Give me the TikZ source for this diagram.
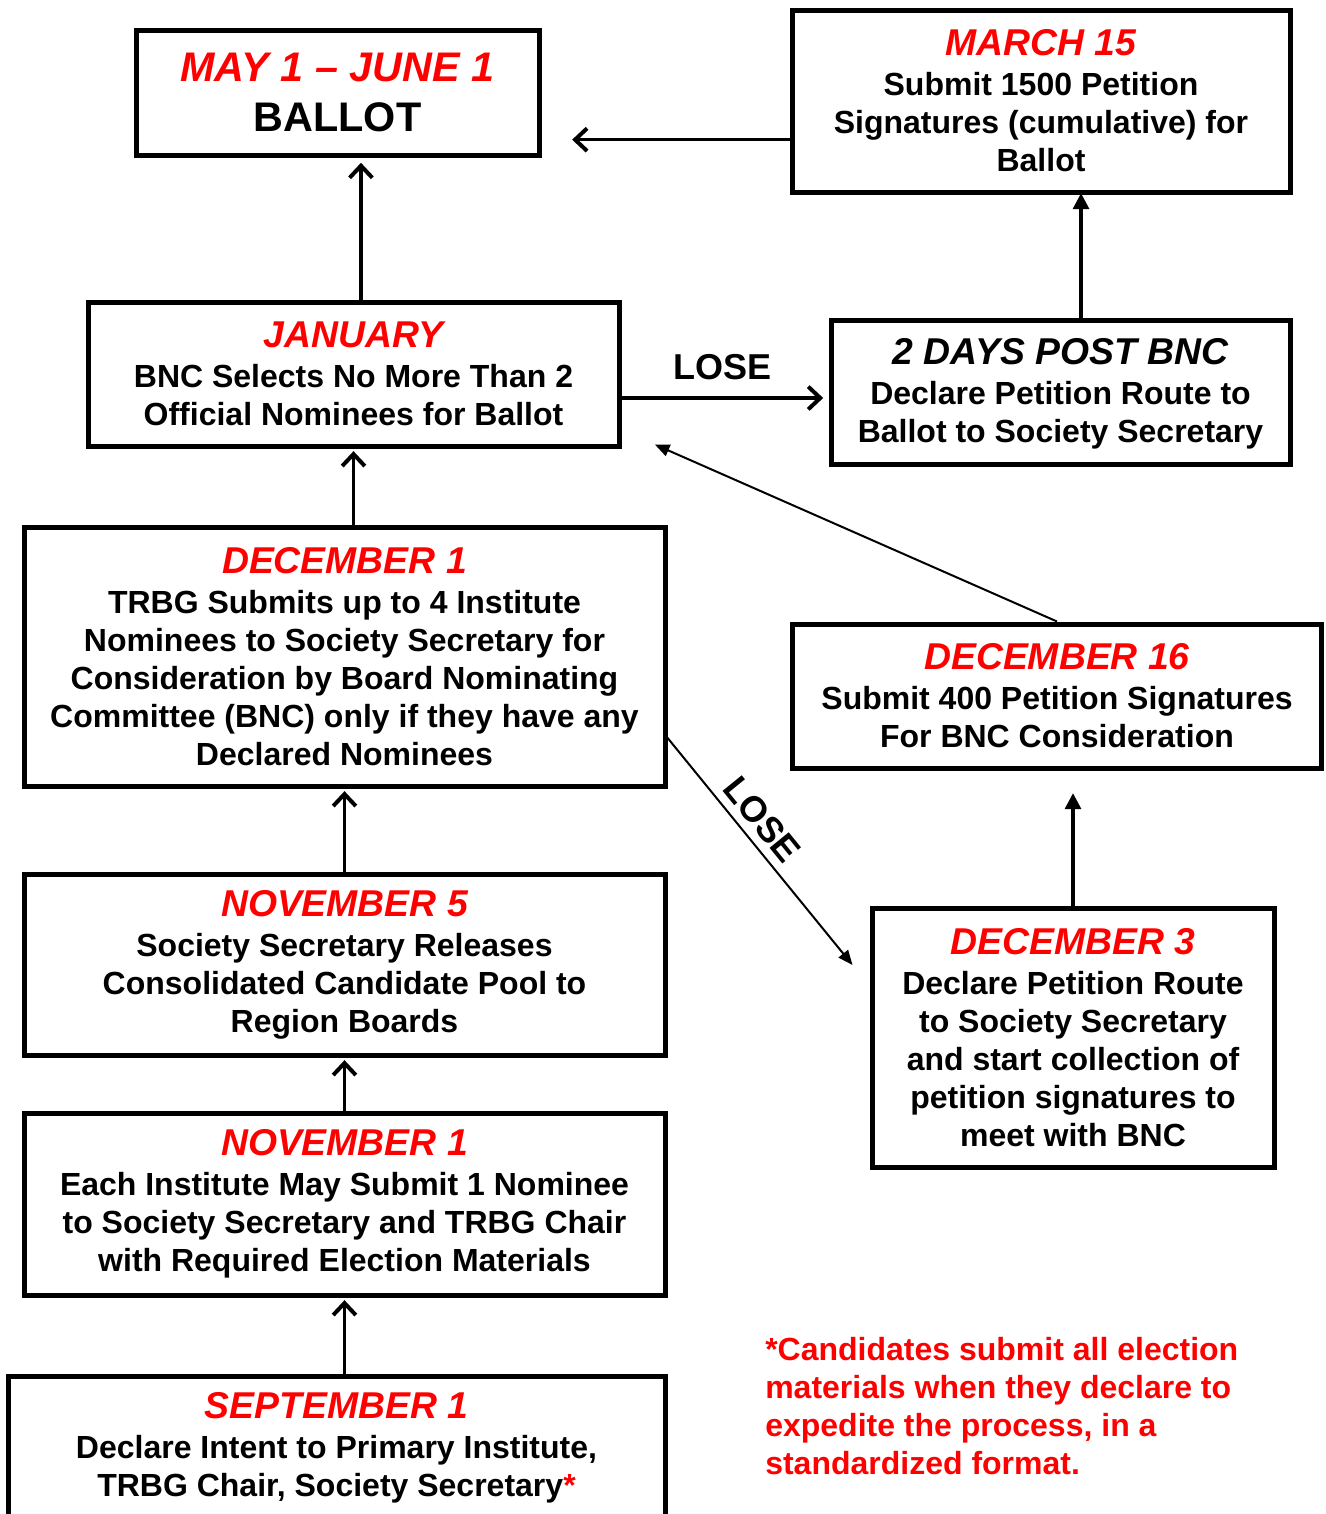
\documentclass[tikz,border=0pt]{standalone}
\usepackage{fontspec}
\setmainfont{Liberation Sans}
\usepackage{xcolor}
\usepackage{tikz}
\usetikzlibrary{arrows.meta}

\newcommand{\bodyfont}{\bfseries\fontsize{24}{28.5}\selectfont}
\newcommand{\datehead}[1]{{\fontsize{28}{30}\selectfont\itshape\color{red}#1}\\[1.5pt]}

\begin{document}
\begin{tikzpicture}[x=0.75pt, y=-0.75pt,
  datebox/.style 2 args={draw, line width=3.75pt, minimum width=0.75*#1pt,
    minimum height=0.75*#2pt, align=center, inner sep=0pt, font=\bodyfont},
  openarrow/.style={line width=2.4pt, -{Straight Barb[length=9pt,width=17pt,line width=3pt]}},
  solidarrow/.style={line width=2.4pt, -{Triangle[length=12pt,width=12pt]}},
  thinarrow/.style={line width=1.5pt, -{Triangle[length=11pt,width=9pt]}},
  losetext/.style={font=\bfseries\fontsize{27}{30}\selectfont, inner sep=2pt}]

% Page frame
\useasboundingbox (0,0) rectangle (1325,1514);
\clip (0,0) rectangle (1325,1514);

% Top row
\node[datebox={403}{125}, font=\bfseries\fontsize{31}{38}\selectfont] (ballot) at (337.5,92.5)
  {{\color{red}\itshape MAY 1 -- JUNE 1}\\ BALLOT};
\node[datebox={498}{182}] (march) at (1041,101)
  {\datehead{MARCH 15}Submit 1500 Petition\\ Signatures (cumulative) for\\ Ballot};

% BNC row
\node[datebox={531}{144}] (jan) at (353.5,374)
  {\datehead{JANUARY}BNC Selects No More Than 2\\ Official Nominees for Ballot};
\node[datebox={459}{144}] (days) at (1060.5,392)
  {\\[-6pt]{\fontsize{28}{30}\selectfont\itshape 2 DAYS POST BNC}\\[1.5pt]
   Declare Petition Route to\\ Ballot to Society Secretary};

% December boxes
\node[datebox={641}{259}] (dec1) at (344.5,656.5)
  {\datehead{DECEMBER 1}TRBG Submits up to 4 Institute\\ Nominees to Society Secretary for\\
   Consideration by Board Nominating\\ Committee (BNC) only if they have any\\ Declared Nominees};
\node[datebox={529}{144}] (dec16) at (1057,696)
  {\datehead{DECEMBER 16}Submit 400 Petition Signatures\\ For BNC Consideration};
\node[datebox={402}{259}] (dec3) at (1073,1037.5)
  {\datehead{DECEMBER 3}Declare Petition Route\\ to Society Secretary\\ and start collection of\\
   petition signatures to\\ meet with BNC};

% Fall boxes
\node[datebox={641}{181}] (nov5) at (344.5,964.5)
  {\datehead{NOVEMBER 5}Society Secretary Releases\\ Consolidated Candidate Pool to\\ Region Boards};
\node[datebox={641}{182}] (nov1) at (344.5,1204)
  {\datehead{NOVEMBER 1}Each Institute May Submit 1 Nominee\\ to Society Secretary and TRBG Chair\\
   with Required Election Materials};
\node[datebox={657}{144}] (sep1) at (336.5,1448)
  {\datehead{SEPTEMBER 1}Declare Intent to Primary Institute,\\
   TRBG Chair, Society Secretary{\color{red}*}};

% Footnote
\node[anchor=west, align=left, inner sep=0pt, text=red, font=\bodyfont] (note) at (765,1406)
  {*Candidates submit all election\\ materials when they declare to\\ expedite the process, in a\\ standardized format.};

% Main line arrows
\draw[openarrow, shorten >=2pt] (sep1.north -| nov1.south) -- (nov1.south);
\draw[openarrow, shorten >=2pt] (nov1.north) -- (nov5.south);
\draw[openarrow, shorten >=2pt] (nov5.north) -- (dec1.south);
\draw[openarrow, shorten >=2pt] (dec1.north -| jan.south) -- (jan.south);
\draw[openarrow, shorten >=4pt] ([xshift=5.6pt]jan.north) -- ([xshift=5.6pt]jan.north |- ballot.south);

% Petition route arrows
\draw[openarrow, shorten >=4pt] ([yshift=-18pt]jan.east) -- node[above, losetext, yshift=10.5pt, xshift=-2pt]{LOSE} ([yshift=-18pt]jan.east -| days.west);
\draw[solidarrow, shorten >=-1pt] ([xshift=15.4pt]days.north) -- ([xshift=15.4pt]days.north |- march.south);
\draw[openarrow, shorten >=23pt] ([yshift=-29pt]march.west) -- ([yshift=-29pt]march.west -| ballot.east);
\draw[thinarrow] ([yshift=-61pt]dec1.east) -- node[pos=0.42, sloped, above, losetext, yshift=4pt]{LOSE} ([shift={(-12.75pt,54.4pt)}]dec3.west);
\draw[solidarrow, shorten >=17pt] (dec3.north) -- (dec3.north |- dec16.south);
\draw[thinarrow] (dec16.north) -- ([shift={(25pt,3pt)}]jan.south east);
\end{tikzpicture}
\end{document}
